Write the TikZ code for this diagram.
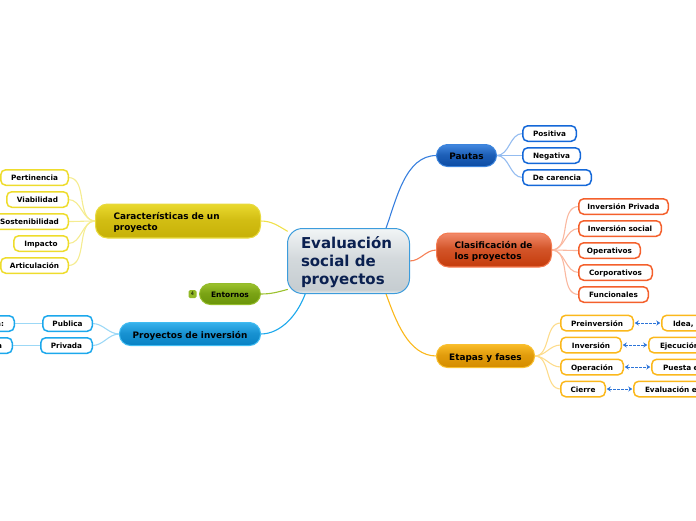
\documentclass[tikz,border=0pt]{standalone}
\usepackage{fontspec}
\setmainfont{DejaVu Sans}
\usetikzlibrary{backgrounds,arrows.meta}
\definecolor{ctext}{HTML}{0A2050}
\definecolor{yT}{HTML}{EAD92E}\definecolor{yB}{HTML}{C8B208}\definecolor{yL}{HTML}{E8DA3E}
\definecolor{bT}{HTML}{38B2EC}\definecolor{bB}{HTML}{0A84C6}\definecolor{bL}{HTML}{40BCF2}
\definecolor{gT}{HTML}{9CC22E}\definecolor{gB}{HTML}{6C960A}\definecolor{gL}{HTML}{94BC2A}
\definecolor{pT}{HTML}{4288E0}\definecolor{pB}{HTML}{0E4EA6}\definecolor{pL}{HTML}{3C84DC}
\definecolor{rT}{HTML}{F28A6A}\definecolor{rB}{HTML}{C63E0E}\definecolor{rL}{HTML}{F47A50}
\definecolor{oT}{HTML}{F9BC28}\definecolor{oB}{HTML}{D68E00}\definecolor{oL}{HTML}{F8C030}
\definecolor{cT}{HTML}{F2F5F6}\definecolor{cB}{HTML}{C6CDD1}\definecolor{cL}{HTML}{EEF2F4}
\definecolor{cE}{HTML}{3C9CDC}
\definecolor{yleaf}{HTML}{EEDC2C}\definecolor{yline}{HTML}{F5EC90}
\definecolor{bleaf}{HTML}{1CA8EC}\definecolor{bline}{HTML}{9CD8F6}
\definecolor{pleaf}{HTML}{1468D8}\definecolor{pline}{HTML}{94BCF0}
\definecolor{rleaf}{HTML}{F4602C}\definecolor{rline}{HTML}{FAB8A0}
\definecolor{oleaf}{HTML}{FBB81C}\definecolor{oline}{HTML}{FDDC8C}
\definecolor{rel}{HTML}{2C74D8}
\newcommand{\mkshade}[4]{\pgfdeclareverticalshading{#1}{100bp}{color(0bp)=(#4); color(25bp)=(#4); color(28bp)=(#3); color(52bp)=(#3!70!#2); color(75bp)=(#2); color(100bp)=(#2)}}
\mkshade{shY}{yT}{yB}{yL}
\mkshade{shB}{bT}{bB}{bL}
\mkshade{shG}{gT}{gB}{gL}
\mkshade{shP}{pT}{pB}{pL}
\mkshade{shR}{rT}{rB}{rL}
\mkshade{shO}{oT}{oB}{oL}
\mkshade{shC}{cT}{cB}{cL}
\tikzset{
  x=1pt,y=-1pt,
  base/.style={inner sep=0pt,outer sep=0pt,font=\bfseries,text=black},
  topicbox/.style={base,rounded corners=11pt,font=\fontsize{8.9}{11}\selectfont\bfseries,line width=1pt,text height=10.5pt,text depth=2pt},
  twoline/.style={text height=15.5pt,text depth=18.5pt},
  leafbox/.style={base,rounded corners=5pt,fill=white,line width=1.5pt,font=\fontsize{7.3}{9}\selectfont\bfseries,minimum height=15.5pt,text height=8pt,text depth=2pt},
  con/.style={line width=1.1pt,line cap=round},
  rellink/.style={line width=1pt,rel,dash pattern=on 2.5pt off 1.5pt,shorten >=1.5pt,shorten <=1.5pt,{Stealth[length=4pt,width=5pt]}-{Stealth[length=4pt,width=5pt]}}
}
% name, x1, x2, ymid, colour, text
\newcommand{\leaf}[6]{\node[leafbox,draw=#5,minimum width=#3pt-#2pt-1.5pt] (#1) at ({(#2+#3)/2},#4) {#6};}
\newcommand{\leafR}[6]{\node[leafbox,draw=#5,minimum width=#3pt-#2pt-1.5pt,text width=#3pt-#2pt-24pt,align=left] (#1) at ({(#2+#3)/2},#4) {#6};}
\newcommand{\leafLf}[6]{\node[leafbox,draw=#5,minimum width=#3pt-#2pt-1.5pt,text width=#3pt-#2pt-22pt,align=right] (#1) at ({(#2+#3)/2},#4) {#6};}
\begin{document}
\begin{tikzpicture}
\useasboundingbox (0,0) rectangle (696,520);
\clip (0,0) rectangle (696,520);
% centre
\node[base,rounded corners=15pt,shading=shC,draw=cE,line width=1pt,minimum width=122pt,minimum height=65pt] (center) at (348.5,261) {};
\node[base,font=\fontsize{15}{18}\selectfont\bfseries,text=ctext,align=left,anchor=west] (centertext) at (301,262) {Evaluación\\social de\\proyectos};
% topics
\node[topicbox,shading=shP,draw=pL,minimum width=60pt,minimum height=22pt] (pautas) at (466.5,155.5) {Pautas};
\node[topicbox,twoline,shading=shR,draw=rL,minimum width=115pt,minimum height=33pt,rounded corners=12pt,text width=79pt,align=left] (clasif) at (494,250) {Clasificación de\\los proyectos};
\node[topicbox,shading=shO,draw=oL,minimum width=98pt,minimum height=23pt] (etapas) at (485.5,356) {Etapas y fases};
\node[topicbox,twoline,shading=shY,draw=yL,minimum width=165pt,minimum height=33pt,rounded corners=12pt,text width=129pt,align=left] (carac) at (178,221) {Características de un\\proyecto};
\node[topicbox,shading=shG,draw=gL,minimum width=61pt,minimum height=21pt,font=\fontsize{7.5}{9}\selectfont\bfseries,text height=9.5pt] (entornos) at (230,294) {Entornos};
\node[topicbox,shading=shB,draw=bL,minimum width=141pt,minimum height=23pt] (proy) at (190,334) {Proyectos de inversión};
\node[base,rounded corners=1.5pt,fill=gT!80!gB,minimum width=8pt,minimum height=8pt,font=\fontsize{5}{5}\selectfont] (badge) at (192.5,294) {4};
% yellow leaves
\leaf{pert}{0}{69}{177.5}{yleaf}{Pertinencia}
\leaf{viab}{6}{69}{199.5}{yleaf}{Viabilidad}
\leaf{sost}{-10}{69}{221.5}{yleaf}{Sostenibilidad}
\leaf{impa}{13}{69}{243.5}{yleaf}{Impacto}
\leaf{arti}{0}{69}{265.5}{yleaf}{Articulación}
% blue leaves
\leaf{publ}{42}{93}{323.5}{bleaf}{Publica}
\leaf{priv}{40}{93}{345.5}{bleaf}{Privada}
\leafLf{publx}{-60}{15}{323.5}{bleaf}{a:}
\leafLf{privx}{-60}{13}{345.5}{bleaf}{a}
% pautas leaves
\leaf{posi}{522}{577}{133.5}{pleaf}{Positiva}
\leaf{nega}{522}{581}{155.5}{pleaf}{Negativa}
\leaf{care}{522}{592}{177.5}{pleaf}{De carencia}
% clasificacion leaves
\leaf{ipri}{578}{669}{206.5}{rleaf}{Inversión Privada}
\leaf{isoc}{578}{662}{228.5}{rleaf}{Inversión social}
\leaf{oper}{578}{641}{250.5}{rleaf}{Operativos}
\leaf{corp}{578}{653}{272.5}{rleaf}{Corporativos}
\leaf{func}{578}{649}{294.5}{rleaf}{Funcionales}
% etapas leaves
\leaf{prei}{560}{634}{323}{oleaf}{Preinversión}
\leaf{inve}{560}{622}{345}{oleaf}{Inversión}
\leaf{opc}{560}{624}{367}{oleaf}{Operación}
\leaf{cier}{560}{606}{389}{oleaf}{Cierre}
\leafR{idea}{661}{760}{323}{oleaf}{Idea,}
\leafR{ejec}{648}{770}{345}{oleaf}{Ejecución}
\leafR{pues}{651}{770}{367}{oleaf}{Puesta e}
\leafR{eval}{633}{790}{389}{oleaf}{Evaluación e}
% relations
\draw[rellink] (prei.east) -- (idea.west);
\draw[rellink] (inve.east) -- (ejec.west);
\draw[rellink] (opc.east) -- (pues.west);
\draw[rellink] (cier.east) -- (eval.west);
\begin{scope}[on background layer]
\draw[con,pleaf!85!white] (center.41.3) to[out=70,in=180,looseness=.9] (pautas.west);
\draw[con,rleaf!80!white] (center.east) to[out=0,in=180] (clasif.west);
\draw[con,oleaf] (center.319) to[out=-70,in=180,looseness=.9] (etapas.west);
\draw[con,yleaf!85!white] (center.154) to[out=150,in=0] (carac.east);
\draw[con,gT] (center.205) to[out=195,in=0] (entornos.east);
\draw[con,bleaf] (center.217.8) to[out=250,in=0,looseness=.9] (proy.east);
\foreach \t in {posi,nega,care} \draw[con,pline] (pautas.east) to[out=0,in=180] (\t.west);
\foreach \t in {ipri,isoc,oper,corp,func} \draw[con,rline] (clasif.east) to[out=0,in=180] (\t.west);
\foreach \t in {prei,inve,opc,cier} \draw[con,oline] (etapas.east) to[out=0,in=180] (\t.west);
\foreach \t in {pert,viab,sost,impa,arti} \draw[con,yline] (carac.west) to[out=180,in=0] (\t.east);
\foreach \t in {publ,priv} \draw[con,bline] (proy.west) to[out=180,in=0] (\t.east);
\draw[con,bline] (publ.west) -- (publx.east);
\draw[con,bline] (priv.west) -- (privx.east);
\end{scope}
\end{tikzpicture}
\end{document}
